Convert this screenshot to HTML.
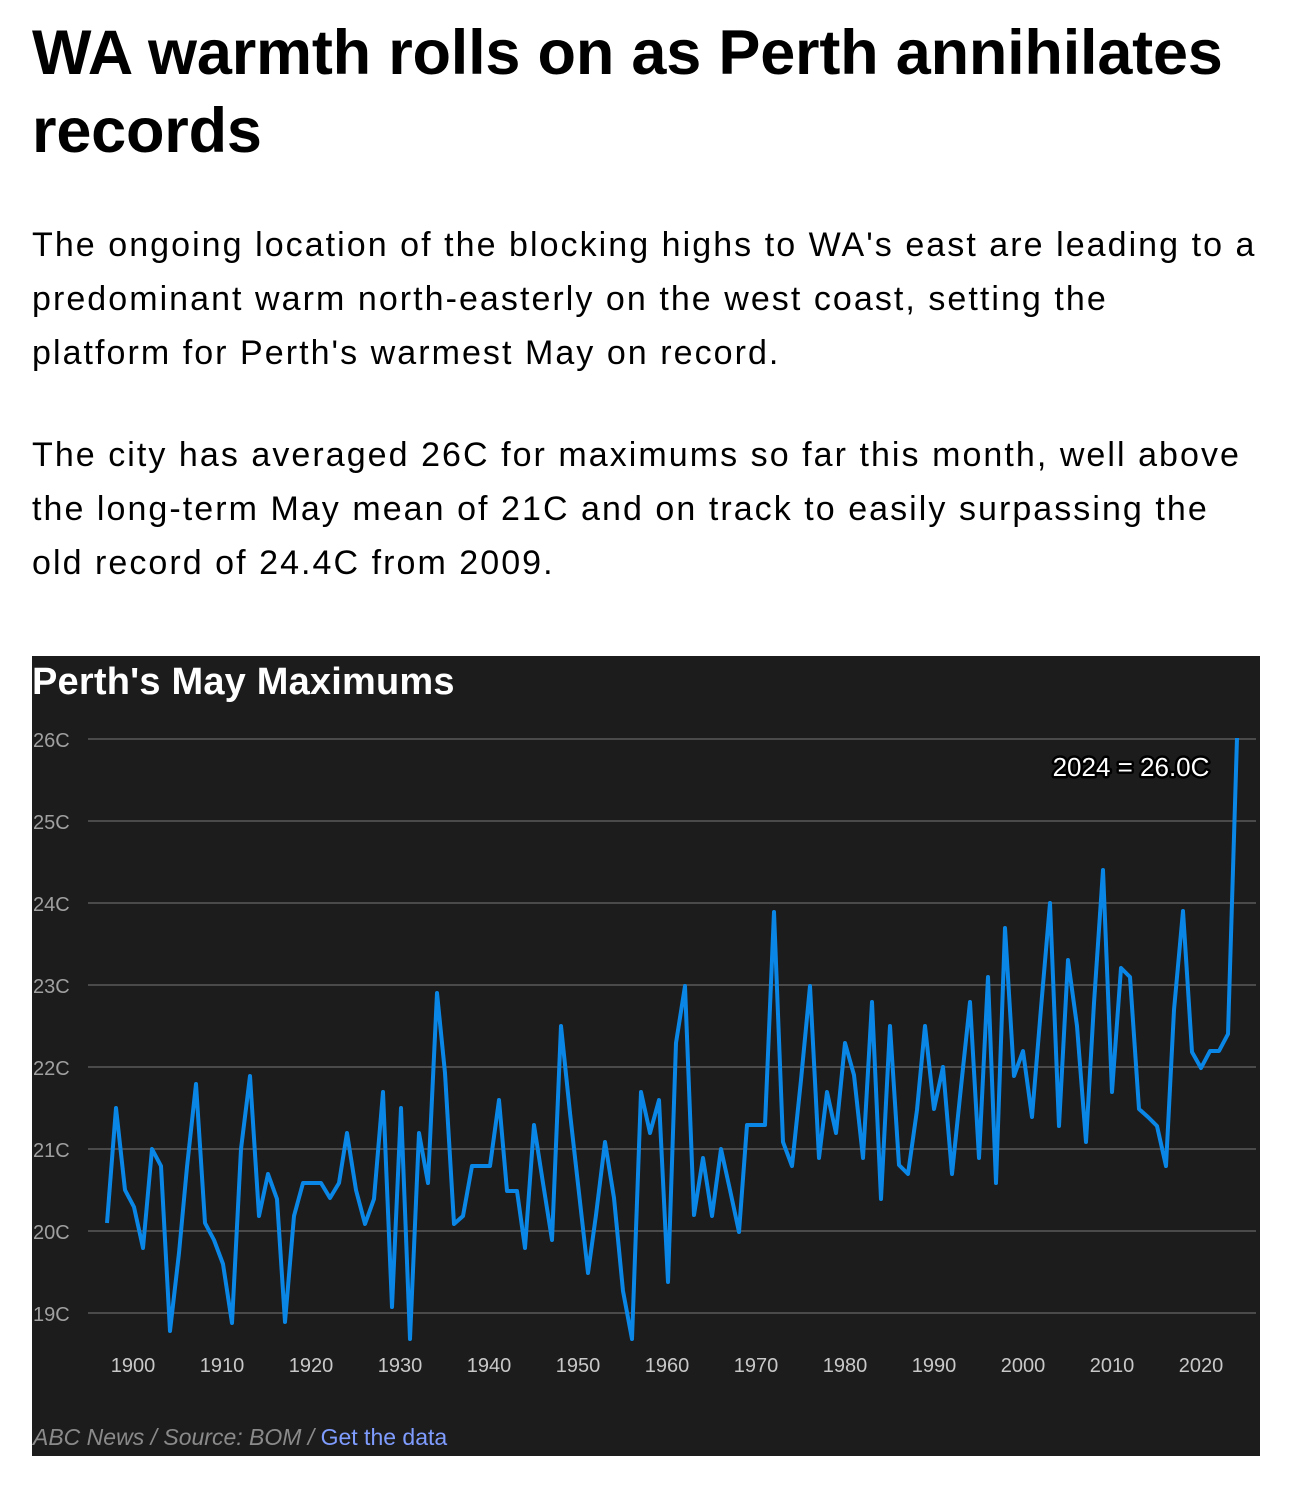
<!DOCTYPE html>
<html><head><meta charset="utf-8"><style>
body{margin:0;background:#fff;width:1308px;height:1492px;overflow:hidden;font-family:"Liberation Sans",sans-serif;color:#000}
h1{position:absolute;left:32px;top:14px;margin:0;font-size:63px;line-height:78px;font-weight:bold;letter-spacing:-0.2px;width:1250px;white-space:nowrap}
p{position:absolute;left:32px;margin:0;font-size:34px;line-height:54px;letter-spacing:2.05px;white-space:nowrap}
svg{position:absolute;left:32px;top:656px}
</style></head><body>
<h1>WA warmth rolls on as Perth annihilates<br>records</h1>
<p style="top:218px">The ongoing location of the blocking highs to WA's east are leading to a<br>predominant warm north-easterly on the west coast, setting the<br>platform for Perth's warmest May on record.</p>
<p style="top:428px">The city has averaged 26C for maximums so far this month, well above<br>the long-term May mean of 21C and on track to easily surpassing the<br>old record of 24.4C from 2009.</p>
<svg width="1228" height="800" viewBox="32 656 1228 800">
<rect x="32" y="656" width="1228" height="800" fill="#1c1c1c"/>
<text x="32" y="694" fill="#fff" font-size="38" font-weight="bold" letter-spacing="0.2">Perth's May Maximums</text>
<g stroke="#4a4a4a" stroke-width="2">
<line x1="88" x2="1256" y1="739" y2="739"/><line x1="88" x2="1256" y1="821" y2="821"/><line x1="88" x2="1256" y1="903" y2="903"/><line x1="88" x2="1256" y1="985" y2="985"/><line x1="88" x2="1256" y1="1067" y2="1067"/><line x1="88" x2="1256" y1="1149" y2="1149"/><line x1="88" x2="1256" y1="1231" y2="1231"/><line x1="88" x2="1256" y1="1313" y2="1313"/>
</g>
<g fill="#a0a0a0" font-size="20">
<text x="33" y="747">26C</text><text x="33" y="829">25C</text><text x="33" y="911">24C</text><text x="33" y="993">23C</text><text x="33" y="1075">22C</text><text x="33" y="1157">21C</text><text x="33" y="1239">20C</text><text x="33" y="1321">19C</text>
</g>
<g fill="#c8c8c8" font-size="20" text-anchor="middle">
<text x="133" y="1372">1900</text><text x="222" y="1372">1910</text><text x="311" y="1372">1920</text><text x="400" y="1372">1930</text><text x="489" y="1372">1940</text><text x="578" y="1372">1950</text><text x="667" y="1372">1960</text><text x="756" y="1372">1970</text><text x="845" y="1372">1980</text><text x="934" y="1372">1990</text><text x="1023" y="1372">2000</text><text x="1112" y="1372">2010</text><text x="1201" y="1372">2020</text>
</g>
<polyline fill="none" stroke="#0a87e6" stroke-width="4" stroke-linejoin="round" points="107,1223 116,1108 125,1190 134,1207 143,1248 152,1149 161,1166 170,1331 179,1253 187,1167 196,1084 205,1223 214,1240 223,1264 232,1323 241,1149 250,1076 259,1216 268,1174 277,1199 285,1322 294,1216 303,1183 312,1183 321,1183 330,1198 339,1183 347,1133 356,1190 365,1224 374,1199 383,1092 392,1307 401,1108 410,1339 419,1133 428,1183 437,993 445,1073 454,1224 463,1216 472,1166 481,1166 490,1166 499,1100 507,1191 517,1191 525,1248 534,1125 543,1183 552,1240 561,1026 570,1113 579,1193 588,1273 596,1215 605,1142 614,1198 623,1291 632,1339 641,1092 650,1133 659,1100 668,1282 676,1043 685,986 694,1215 703,1158 712,1216 721,1149 730,1190 739,1232 747,1125 756,1125 765,1125 774,912 783,1142 792,1166 801,1080 810,986 819,1158 827,1092 836,1133 845,1043 854,1075 863,1158 872,1002 881,1199 890,1026 899,1165 908,1174 917,1110 925,1026 934,1109 943,1067 952,1174 961,1087 970,1002 979,1158 988,977 996,1183 1005,928 1014,1076 1023,1051 1032,1117 1041,1008 1050,903 1059,1126 1068,960 1077,1026 1086,1142 1094,1003 1103,870 1112,1092 1121,968 1130,977 1139,1109 1148,1117 1157,1126 1166,1166 1174,1010 1183,911 1192,1052 1201,1068 1210,1051 1219,1051 1228,1034 1237,738"/>
<text x="1131" y="776" text-anchor="middle" font-size="26" fill="#fff" stroke="#000" stroke-width="5" paint-order="stroke" stroke-linejoin="round">2024 = 26.0C</text>
<text x="33" y="1445" font-size="23" font-style="italic" fill="#8a8a8a">ABC News / Source: BOM / <tspan fill="#7f9cff" font-style="normal">Get the data</tspan></text>
</svg>
</body></html>
